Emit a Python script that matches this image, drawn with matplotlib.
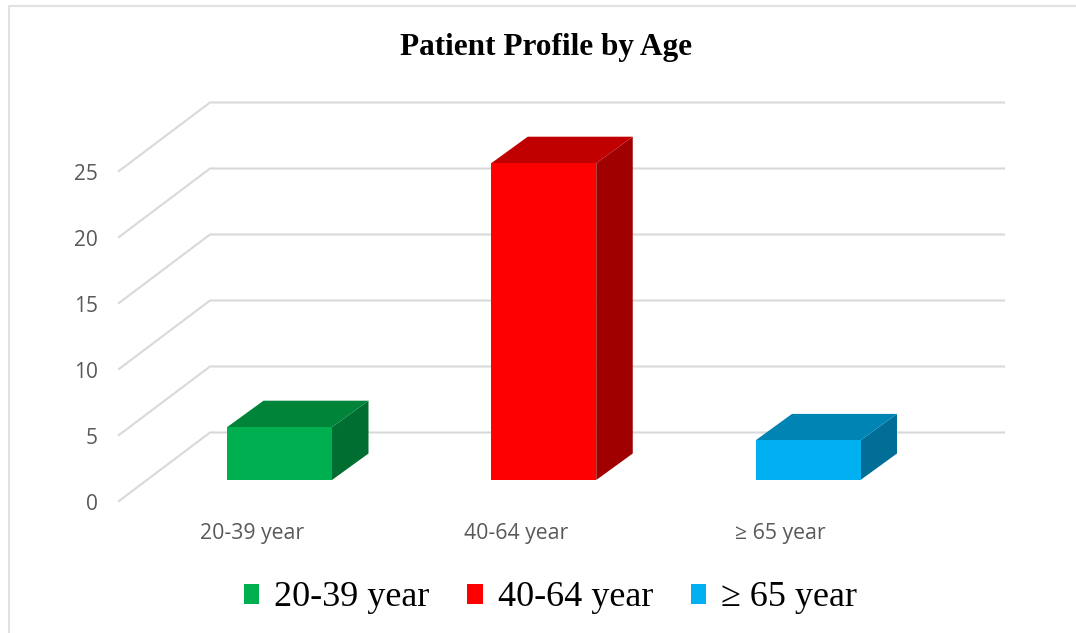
# -*- coding: utf-8 -*-
"""Patient Profile by Age - 3D-look column chart drawn with flat polygons"""
import matplotlib
matplotlib.use('Agg')
import matplotlib.pyplot as plt
from matplotlib.patches import Polygon, Patch

categories = ['20-39 year', '40-64 year', '≥ 65 year']
values = [4, 24, 3]
yticks = [0, 5, 10, 15, 20, 25]
front_col = ['#00b050', '#ff0000', '#00b0f0']
top_col = ['#008439', '#c00000', '#0084b4']
side_col = ['#006e30', '#a00000', '#006e96']

W, H = 1076, 633
ux = 264.25             # Pixel je Kategorie
uy = 13.2               # Pixel je Werteeinheit
x0, y0 = 279.5, 480     # Pixelposition von Kategorie 0 / Wert 0

fig = plt.figure(figsize=(W/100, H/100), dpi=100)
ax = fig.add_axes([0, 0, 1, 1])
ax.set_xlim(-x0/ux, (W-x0)/ux)
ax.set_ylim(-(H-y0)/uy, y0/uy)
ax.axis('off')

half = 52.5/ux          # halbe Saeulenbreite
bx, by = 36.5/ux, 26.5/uy       # Tiefe der Saeulen
wall_front = -21/uy             # Boden vorne
wall_back = 47.5/uy             # Boden hinten
wall_left = (119-x0)/ux
wall_mid = (210-x0)/ux
wall_right = (1004-x0)/ux
grid = '#d9d9d9'

# Gitter: Rueckwand und Seitenwand
for v in yticks:
    ax.plot([wall_left, wall_mid, wall_right],
            [v+wall_front, v+wall_back, v+wall_back],
            color=grid, lw=1.5, solid_joinstyle='miter', zorder=1)
    ax.text((98-x0)/ux, v+wall_front-3/uy, str(v), ha='right', va='center',
            family='Open Sans', fontsize=15, color='#595959')

# Saeulen
for i, v in enumerate(values):
    l, r = i-half, i+half
    ax.add_patch(Polygon([(r, 0), (r+bx, by), (r+bx, v+by), (r, v)],
                         fc=side_col[i], ec='none', zorder=3))
    ax.add_patch(Polygon([(l, v), (l+bx, v+by), (r+bx, v+by), (r, v)],
                         fc=top_col[i], ec='none', zorder=3))
    ax.add_patch(Polygon([(l, 0), (r, 0), (r, v), (l, v)],
                         fc=front_col[i], ec='none', zorder=4))
    ax.text(i-27.5/ux, -54/uy, categories[i], ha='center', va='center',
            family='Open Sans', fontsize=15.3, color='#595959')

# Rahmen
ax.plot([8.5/W, 8.5/W, 1], [0, 1-6/H, 1-6/H], transform=ax.transAxes,
        color='#e2e2e2', lw=1.5, solid_joinstyle='miter')

ax.text(546.5/W, 1-48/H, 'Patient Profile by Age', transform=ax.transAxes,
        ha='center', va='center', family='Liberation Serif',
        fontweight='bold', fontsize=22.5, color='black')

handles = [Patch(fc=c, ec='none', label=n) for c, n in zip(front_col, categories)]
leg = fig.legend(handles=handles, loc='center', bbox_to_anchor=(550.5/W, 1-598/H),
                 ncols=3, frameon=False, handlelength=0.42, handleheight=0.48,
                 handletextpad=0.42, columnspacing=1.05,
                 prop={'family': 'Liberation Serif', 'size': 26})

fig.savefig('out.png', dpi=100)
